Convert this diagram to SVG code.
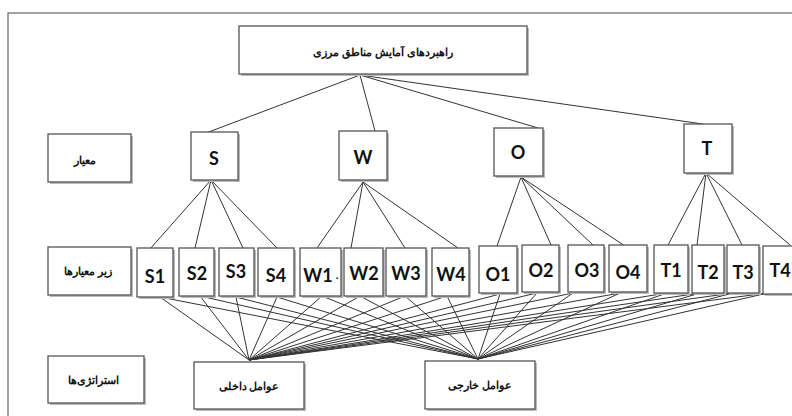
<svg xmlns="http://www.w3.org/2000/svg" width="792" height="416" viewBox="0 0 792 416">
<style>
.box{fill:#fff;stroke:#555;stroke-width:1.3}
.sh{fill:#bbb}
.lat{font-family:Lato,"Open Sans","Liberation Sans",sans-serif;font-weight:bold;font-size:18px;fill:#111;text-anchor:middle}
.fa{font-family:"Liberation Serif","DejaVu Serif","Noto Sans",serif;font-weight:bold;font-size:11px;fill:#111;text-anchor:middle}
.ln{stroke:#333;stroke-width:1;fill:none}
</style>
<rect x="0" y="0" width="792" height="416" fill="#fff"/>
<rect x="8" y="13" width="800" height="420" fill="none" stroke="#666" stroke-width="1.2"/>
<g id="connectors" class="ln">
<path d="M360,75 L206,133 M360,75 L375,131 M360,75 L538,128 M360,75 L703,124"/>
<path d="M211,180 L150,249 M211,180 L195,248 M211,180 L243,248 M211,180 L277,248"/>
<path d="M363,182 L317,248 M363,182 L351,248 M363,182 L405,248 M363,182 L458,248"/>
<path d="M521,177 L497,246 M521,177 L551,245 M521,177 L593,245 M521,177 L625,246"/>
<path d="M706,173 L668,245 M706,173 L697,245 M706,173 L742,245 M706,173 L790,245"/>
<path d="M160,297 L249,360 M200,296 L249,360 M236,297 L249,360 M277,297 L249,360 M322,296 L249,360 M360,296 L249,360 M405,296 L249,360 M447,296 L249,360 M500,294 L249,360 M537,293 L249,360 M573,293 L249,360 M620,293 L249,360 M667,293 L249,360 M700,293 L249,360 M733,293 L249,360 M768,293 L249,360"/>
<path d="M160,297 L478,359 M200,296 L478,359 M236,297 L478,359 M277,297 L478,359 M322,296 L478,359 M360,296 L478,359 M405,296 L478,359 M447,296 L478,359 M500,294 L478,359 M537,293 L478,359 M573,293 L478,359 M620,293 L478,359 M667,293 L478,359 M700,293 L478,359 M733,293 L478,359 M768,293 L478,359"/>
</g>
<g id="goal"><rect class="sh" x="241" y="28" width="288" height="48"/><rect class="box" x="239" y="26" width="288" height="48"/><text class="fa" x="383" y="56">راهبردهای آمایش مناطق مرزی</text></g>
<g id="label-criteria"><rect class="sh" x="50" y="136" width="83" height="48"/><rect class="box" x="48" y="134" width="83" height="48"/><text class="fa" x="85" y="164">معیار</text></g>
<g id="label-sub"><rect class="sh" x="50" y="249" width="83" height="48"/><rect class="box" x="48" y="247" width="83" height="48"/><text class="fa" x="88" y="275">زیر معیارها</text></g>
<g id="label-strat"><rect class="sh" x="50" y="358" width="96" height="47"/><rect class="box" x="48" y="356" width="96" height="47"/><text class="fa" x="93" y="384">استراتژی‌ها</text></g>
<g id="S"><rect class="sh" x="193" y="134" width="47" height="48"/><rect class="box" x="191" y="132" width="47" height="48"/><text class="lat" x="214" y="165">S</text></g>
<g id="W"><rect class="sh" x="341" y="133" width="48" height="49"/><rect class="box" x="339" y="131" width="48" height="49"/><text class="lat" x="363" y="164">W</text></g>
<g id="O"><rect class="sh" x="496" y="130" width="49" height="48"/><rect class="box" x="494" y="128" width="49" height="48"/><text class="lat" x="518" y="159">O</text></g>
<g id="T"><rect class="sh" x="686" y="126" width="48" height="49"/><rect class="box" x="684" y="124" width="48" height="49"/><text class="lat" x="707" y="155">T</text></g>
<g id="S1"><rect class="sh" x="139" y="250" width="36" height="49"/><rect class="box" x="137" y="248" width="36" height="49"/><text class="lat" x="155" y="283">S1</text></g>
<g id="S2"><rect class="sh" x="181" y="250" width="35" height="48"/><rect class="box" x="179" y="248" width="35" height="48"/><text class="lat" x="197" y="280">S2</text></g>
<g id="S3"><rect class="sh" x="221" y="250" width="35" height="48"/><rect class="box" x="219" y="248" width="35" height="48"/><text class="lat" x="236" y="278">S3</text></g>
<g id="S4"><rect class="sh" x="260" y="250" width="36" height="48"/><rect class="box" x="258" y="248" width="36" height="48"/><text class="lat" x="276" y="282">S4</text></g>
<g id="W1"><rect class="sh" x="302" y="250" width="41" height="48"/><rect class="box" x="300" y="248" width="41" height="48"/><text class="lat" x="318" y="282">W1</text><text class="fa" x="337" y="279">.</text></g>
<g id="W2"><rect class="sh" x="346" y="250" width="39" height="48"/><rect class="box" x="344" y="248" width="39" height="48"/><text class="lat" x="364" y="280">W2</text></g>
<g id="W3"><rect class="sh" x="388" y="250" width="40" height="48"/><rect class="box" x="386" y="248" width="40" height="48"/><text class="lat" x="406" y="280">W3</text></g>
<g id="W4"><rect class="sh" x="434" y="250" width="37" height="48"/><rect class="box" x="432" y="248" width="37" height="48"/><text class="lat" x="451" y="281">W4</text></g>
<g id="O1"><rect class="sh" x="481" y="248" width="38" height="47"/><rect class="box" x="479" y="246" width="38" height="47"/><text class="lat" x="498" y="281">O1</text></g>
<g id="O2"><rect class="sh" x="524" y="247" width="37" height="47"/><rect class="box" x="522" y="245" width="37" height="47"/><text class="lat" x="541" y="277">O2</text></g>
<g id="O3"><rect class="sh" x="570" y="247" width="36" height="47"/><rect class="box" x="568" y="245" width="36" height="47"/><text class="lat" x="587" y="277">O3</text></g>
<g id="O4"><rect class="sh" x="611" y="247" width="38" height="47"/><rect class="box" x="609" y="245" width="38" height="47"/><text class="lat" x="628" y="279">O4</text></g>
<g id="T1"><rect class="sh" x="656" y="247" width="34" height="48"/><rect class="box" x="654" y="245" width="34" height="48"/><text class="lat" x="671" y="277">T1</text></g>
<g id="T2"><rect class="sh" x="694" y="247" width="32" height="48"/><rect class="box" x="692" y="245" width="32" height="48"/><text class="lat" x="708" y="279">T2</text></g>
<g id="T3"><rect class="sh" x="729" y="247" width="32" height="48"/><rect class="box" x="727" y="245" width="32" height="48"/><text class="lat" x="743" y="279">T3</text></g>
<g id="T4"><rect class="sh" x="765" y="248" width="40" height="48"/><rect class="box" x="763" y="246" width="40" height="48"/><text class="lat" x="780" y="277">T4</text></g>
<g id="internal"><rect class="sh" x="196" y="364" width="110" height="47"/><rect class="box" x="194" y="362" width="110" height="47"/><text class="fa" x="249" y="390">عوامل داخلی</text></g>
<g id="external"><rect class="sh" x="427" y="363" width="110" height="48"/><rect class="box" x="425" y="361" width="110" height="48"/><text class="fa" x="480" y="389">عوامل خارجی</text></g>
</svg>
